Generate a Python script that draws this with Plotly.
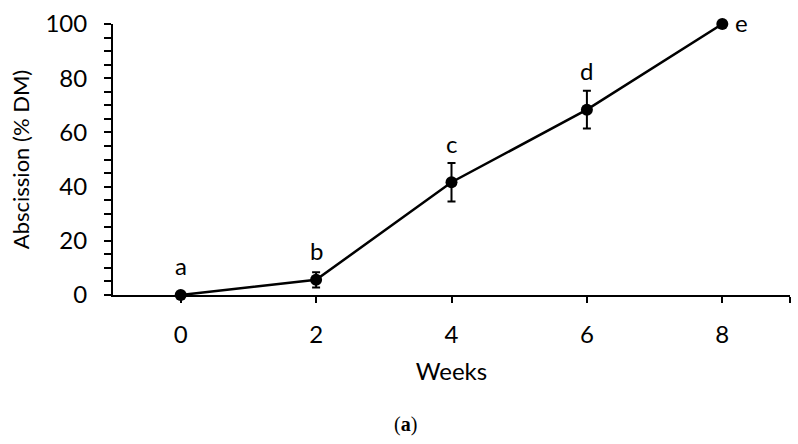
import plotly.graph_objects as go

weeks = [0, 2, 4, 6, 8]
abscission = [0.0, 5.6, 41.6, 68.4, 100.0]
sem = [0.0, 2.8, 7.1, 7.0, 0.0]
letters = ["a", "b", "c", "d", "e"]
x_tick_vals = [0, 2, 4, 6, 8, 9]
x_tick_text = ["0", "2", "4", "6", "8", ""]

FONT = "Lato"
W, H = 798, 444
ML, MR, MT, MB = 113, 8, 20, 149
plot_w = W - ML - MR

fig = go.Figure()
fig.add_trace(go.Scatter(
    x=weeks, y=abscission,
    mode="lines+markers",
    line=dict(color="black", width=2.5),
    marker=dict(color="black", size=12),
    error_y=dict(type="data", array=sem, visible=True, color="black",
                 thickness=2, width=4),
    cliponaxis=False,
    showlegend=False,
))

annotations = []
for i, (xv, yv, e, lab) in enumerate(zip(weeks, abscission, sem, letters)):
    if i == len(weeks) - 1:
        annotations.append(dict(x=xv, y=yv, text=lab, showarrow=False,
                                xanchor="left", yanchor="middle", xshift=11, yshift=2,
                                font=dict(family=FONT, size=24, color="black")))
    else:
        annotations.append(dict(x=xv, y=yv + max(e, 3.5), text=lab, showarrow=False,
                                xanchor="center", yanchor="middle", yshift=20,
                                font=dict(family=FONT, size=24, color="black")))

annotations.append(dict(xref="paper", yref="paper",
                        x=(405 - ML) / plot_w, y=-(426 - (H - MB)) / (H - MT - MB),
                        text="(<b>a</b>)", showarrow=False,
                        xanchor="center", yanchor="middle",
                        font=dict(family="Liberation Serif", size=20, color="black")))

fig.update_layout(
    width=W, height=H,
    margin=dict(l=ML, r=MR, t=MT, b=MB, pad=0),
    plot_bgcolor="white", paper_bgcolor="white",
    font=dict(family=FONT, size=24, color="black"),
    annotations=annotations,
    shapes=[dict(type="line", xref="paper", yref="paper",
                 x0=-9 / plot_w, x1=0, y0=0, y1=0,
                 line=dict(color="black", width=2))],
)
fig.update_xaxes(
    range=[-1, 9], tickvals=x_tick_vals, ticktext=x_tick_text,
    showline=True, linecolor="black", linewidth=2,
    ticks="outside", ticklen=6, tickwidth=2, tickcolor="black",
    showgrid=False, zeroline=False,
    ticklabelstandoff=11,
    title=dict(text="Weeks", standoff=16, font=dict(family=FONT, size=24)),
    tickfont=dict(family=FONT, size=24),
)
fig.update_yaxes(
    range=[0, 100], dtick=20,
    showline=True, linecolor="black", linewidth=2,
    ticks="outside", ticklen=7, tickwidth=2, tickcolor="black",
    minor=dict(dtick=5, ticks="outside", ticklen=7, tickwidth=2, tickcolor="black"),
    showgrid=False, zeroline=False,
    ticklabelstandoff=12,
    title=dict(text="Abscission (% DM)", standoff=10, font=dict(family=FONT, size=22)),
    tickfont=dict(family=FONT, size=24),
)

fig.write_html("out.html")
